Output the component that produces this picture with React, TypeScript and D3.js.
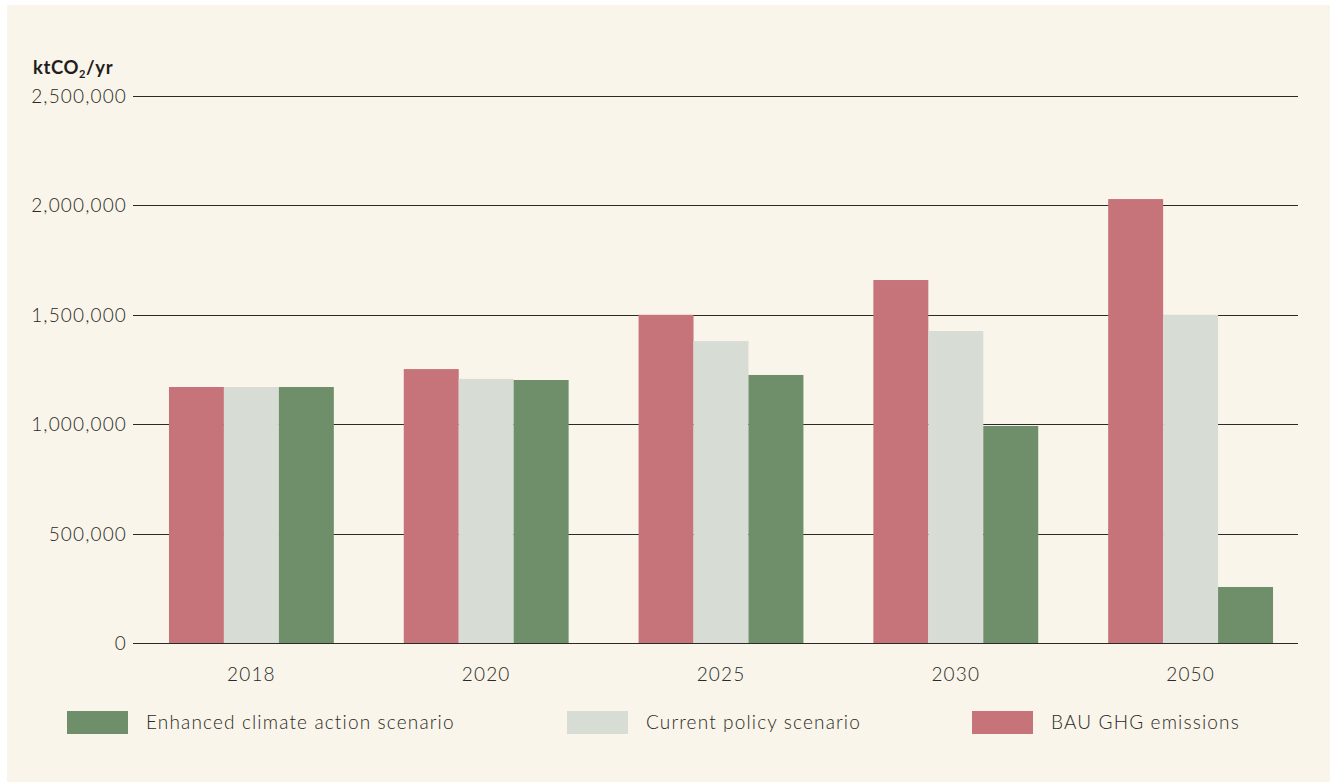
import { useEffect, useRef } from 'react';
import * as d3 from 'd3';

const years = ['2018', '2020', '2025', '2030', '2050'];
const bauEmissions = [1170000, 1252000, 1500000, 1659000, 2029000];
const currentPolicy = [1170000, 1207000, 1380000, 1426000, 1500000];
const enhancedAction = [1170000, 1202000, 1225000, 992000, 256000];
const yTicks = [0, 500000, 1000000, 1500000, 2000000, 2500000];

const seriesNames = ['BAU GHG emissions', 'Current policy scenario', 'Enhanced climate action scenario'];
const seriesColors = ['#c6747a', '#d7dcd5', '#6f8f6a'];
const legendOrder = [2, 1, 0];

const W = 1330;
const H = 782;

const App = () => {
  const ref = useRef<SVGSVGElement>(null);

  useEffect(() => {
    const svg = d3.select(ref.current);
    svg.selectAll('*').remove();

    const font = 'Lato, "Open Sans", sans-serif';
    const textColor = '#2a2926';
    const spacing = '1.15px';

    svg.append('rect').attr('width', W).attr('height', H).attr('fill', '#ffffff');
    svg.append('rect').attr('x', 7).attr('y', 5).attr('width', W - 7).attr('height', H - 5).attr('fill', '#f9f5ea');

    const left = 133;
    const right = 1298;

    const y = d3.scaleLinear().domain([0, 2500000]).range([643, 96]);

    const x = d3.scaleBand<string>()
      .domain(years)
      .range([134, 1308])
      .paddingInner(70 / 235)
      .paddingOuter(35 / 235);

    const seriesKeys = ['0', '1', '2'];
    const xs = d3.scaleBand<string>()
      .domain(seriesKeys)
      .range([0, x.bandwidth()]);

    // gridlines
    svg.append('g')
      .selectAll('line')
      .data(yTicks)
      .join('line')
      .attr('x1', left)
      .attr('x2', right)
      .attr('y1', d => Math.round(y(d)) + 0.5)
      .attr('y2', d => Math.round(y(d)) + 0.5)
      .attr('stroke', '#2b2a27')
      .attr('stroke-width', 1);

    // y labels
    const fmt = d3.format(',');
    svg.append('g')
      .selectAll('text')
      .data(yTicks)
      .join('text')
      .attr('x', 127)
      .attr('y', d => y(d) + 7)
      .attr('text-anchor', 'end')
      .attr('font-family', font)
      .attr('font-size', 19)
      .attr('font-weight', 300)
      .attr('letter-spacing', spacing)
      .attr('fill', textColor)
      .text(d => fmt(d));

    // bars
    const allSeries = [bauEmissions, currentPolicy, enhancedAction];
    const barData = years.flatMap((yr, i) =>
      allSeries.map((s, k) => ({ yr, k, v: s[i] }))
    );

    svg.append('g')
      .selectAll('rect')
      .data(barData)
      .join('rect')
      .attr('x', d => (x(d.yr) as number) + (xs(String(d.k)) as number))
      .attr('width', xs.bandwidth())
      .attr('y', d => y(d.v))
      .attr('height', d => y(0) - y(d.v))
      .attr('fill', d => seriesColors[d.k]);

    // x labels
    svg.append('g')
      .selectAll('text')
      .data(years)
      .join('text')
      .attr('x', d => (x(d) as number) + x.bandwidth() / 2)
      .attr('y', 681)
      .attr('text-anchor', 'middle')
      .attr('font-family', font)
      .attr('font-size', 19)
      .attr('font-weight', 300)
      .attr('letter-spacing', spacing)
      .attr('fill', textColor)
      .text(d => d);

    // unit title
    const title = svg.append('text')
      .attr('x', 33)
      .attr('y', 74)
      .attr('font-family', font)
      .attr('font-size', 18.5)
      .attr('font-weight', 'bold')
      .attr('letter-spacing', '0.6px')
      .attr('fill', '#1f1e1c');
    title.append('tspan').text('ktCO');
    title.append('tspan').attr('font-size', 11).attr('dy', 4).text('2');
    title.append('tspan').attr('dy', -4).text('/yr');

    // legend
    const legendX = [67, 567, 972];
    const legend = svg.append('g')
      .selectAll('g')
      .data(legendOrder)
      .join('g')
      .attr('transform', (_, i) => `translate(${legendX[i]},711)`);

    legend.append('rect')
      .attr('width', 61)
      .attr('height', 23)
      .attr('fill', k => seriesColors[k]);

    legend.append('text')
      .attr('x', 79)
      .attr('y', 18)
      .attr('font-family', font)
      .attr('font-size', 19)
      .attr('font-weight', 300)
      .attr('letter-spacing', spacing)
      .attr('fill', textColor)
      .text(k => seriesNames[k]);
  }, []);

  return (
    <svg
      ref={ref}
      width={W}
      height={H}
      style={{ position: 'absolute', left: 0, top: 0, display: 'block' }}
    />
  );
};

export default App;
